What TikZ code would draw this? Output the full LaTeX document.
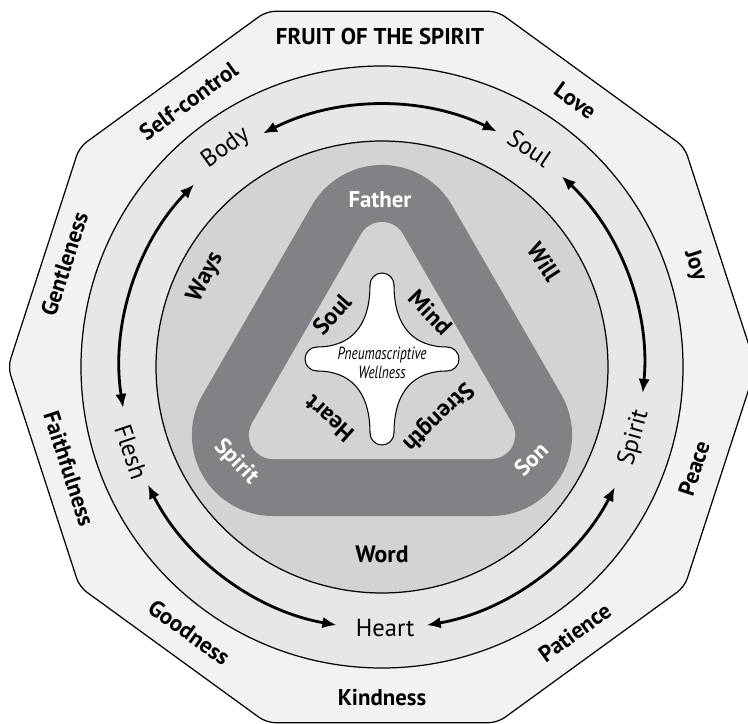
\documentclass[tikz,border=0pt]{standalone}
\usepackage{fontspec}
\setmainfont{PT Sans}
\newfontfamily\narrowit[FakeStretch=0.76]{PT Sans Italic}
\usetikzlibrary{calc, arrows.meta}

\definecolor{decagonbg}{RGB}{242,242,242}
\definecolor{ringbg}{RGB}{230,231,232}
\definecolor{innerbg}{RGB}{209,211,212}
\definecolor{bandgray}{RGB}{128,130,133}

\tikzset{
    outline/.style={draw=black, line width=0.7pt},
    fruitlbl/.style={font=\bfseries\fontsize{13}{15}\selectfont},
    partlbl/.style={font=\fontsize{14}{16}\selectfont},
    waylbl/.style={font=\bfseries\fontsize{13.5}{16}\selectfont},
    godlbl/.style={text=white, font=\bfseries\fontsize{13}{15}\selectfont},
    starlbl/.style={font=\bfseries\fontsize{13.5}{16}\selectfont},
    dblarrow/.style={{Latex[length=8pt,width=6.5pt]}-{Latex[length=8pt,width=6.5pt]}, line width=1.6pt},
}

% rounded triangle around (tt), (tl), (tr)
\newcommand{\roundtri}[1]{($(tt)+(30:#1)$) arc[start angle=30, end angle=150, radius=#1]
    -- ($(tl)+(150:#1)$) arc[start angle=150, end angle=270, radius=#1]
    -- ($(tr)+(270:#1)$) arc[start angle=270, end angle=390, radius=#1] -- cycle}

\begin{document}
\begin{tikzpicture}[scale=0.02]
    \useasboundingbox (-382,-357) rectangle (366,367);
    \clip (-382,-357) rectangle (366,367);

    % Decagon
    \draw[outline, fill=decagonbg, rounded corners=5pt] (0:374)
        \foreach \a in {36,72,...,324} { -- (\a:374) } -- cycle;

    % Rings
    \draw[outline, fill=ringbg] (0,0) circle[radius=301];
    \draw[outline, fill=innerbg] (0,0) circle[radius=226];

    % Triangle band
    \coordinate (tt) at (0,121);
    \coordinate (tl) at (-109.1,-68);
    \coordinate (tr) at (109.1,-68);
    \fill[bandgray] \roundtri{81};
    \fill[innerbg] \roundtri{24};

    % Star
    \begin{scope}[shift={(0,8)}]
        \draw[line width=0.6pt, fill=white] (-12,74) arc[start angle=180, end angle=0, radius=12]
            .. controls (12,32) and (32,12) .. (65,12) arc[start angle=90, end angle=-90, radius=12]
            .. controls (32,-12) and (12,-32) .. (12,-74) arc[start angle=0, end angle=-180, radius=12]
            .. controls (-12,-32) and (-32,-12) .. (-65,-12) arc[start angle=270, end angle=90, radius=12]
            .. controls (-32,12) and (-12,32) .. (-12,74) -- cycle;
        \node[align=center, font=\narrowit\fontsize{10}{10.5}\selectfont] (wellness) at (0,-4) {Pneumascriptive\\Wellness};
        \node[starlbl, rotate=48] (soulS) at (138:67) {Soul};
        \node[starlbl, rotate=-46] (mindS) at (44:67) {Mind};
        \node[starlbl, rotate=-136] (strengthS) at (-46:80) {Strength};
        \node[starlbl, rotate=138.6] (heartS) at (228.6:80) {Heart};
    \end{scope}

    % Fruit of the spirit
    \node[fruitlbl] (title) at (-2,330) {FRUIT OF THE SPIRIT};
    \node[fruitlbl, rotate=-36] (love) at (54:329) {Love};
    \node[fruitlbl, rotate=-72] (joy) at (18:329) {Joy};
    \node[fruitlbl, rotate=72] (peace) at (-18:328) {Peace};
    \node[fruitlbl, rotate=36] (patience) at (-54:328) {Patience};
    \node[fruitlbl] (kindness) at (-90:331) {Kindness};
    \node[fruitlbl, rotate=-36] (goodness) at (234:328) {Goodness};
    \node[fruitlbl, rotate=-72] (faithful) at (198:329) {Faithfulness};
    \node[fruitlbl, rotate=72] (gentle) at (162:334) {Gentleness};
    \node[fruitlbl, rotate=36] (selfctrl) at (126:329) {Self-control};

    % Ring parts
    \node[partlbl, rotate=35.5] (body) at (125.5:269) {Body};
    \node[partlbl, rotate=-34] (soul) at (56:264) {Soul};
    \node[partlbl, rotate=74.3] (spirit) at (-15.7:262) {Spirit};
    \node[partlbl] (heart) at (-89.3:261) {Heart};
    \node[partlbl, rotate=-71.3] (flesh) at (198.7:265) {Flesh};

    % Arrow ends
    \coordinate (bodyE) at (117:262);
    \coordinate (soulE) at (46.7:262);
    \coordinate (spiritE) at (-27.3:262);
    \coordinate (heartE) at (260:262);
    \coordinate (fleshE) at (189:262);

    % Arrows
    \draw[dblarrow] (bodyE) arc[start angle=117, end angle=64, radius=262];
    \draw[dblarrow] (soulE) arc[start angle=46.7, end angle=-5.7, radius=262];
    \draw[dblarrow] (spiritE) arc[start angle=-27.3, end angle=-80.2, radius=262];
    \draw[dblarrow] (heartE) arc[start angle=260, end angle=206.7, radius=262];
    \draw[dblarrow] (fleshE) arc[start angle=189, end angle=135.8, radius=262];

    % Inner circle
    \node[waylbl, rotate=63] (ways) at (153:198) {Ways};
    \node[waylbl, rotate=-57] (will) at (33:193) {Will};
    \node[waylbl] (word) at (-90:187) {Word};

    % Band
    \node[godlbl] (father) at (-2,167) {Father};
    \node[godlbl, rotate=-46] (spiritB) at (-146,-95) {Spirit};
    \node[godlbl, rotate=45] (son) at (149,-92) {Son};
\end{tikzpicture}
\end{document}
